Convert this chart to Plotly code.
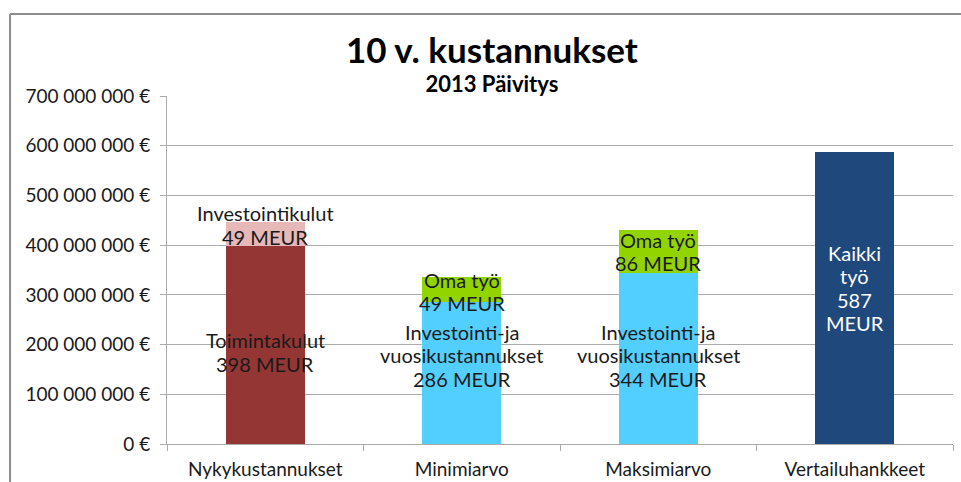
import plotly.graph_objects as go

# ---------------- data ----------------
categories = ["Nykykustannukset", "Minimiarvo", "Maksimiarvo", "Vertailuhankkeet"]
toimintakulut = [398e6, None, None, None]          # €
investointikulut = [49e6, None, None, None]
investointi_vuosi = [None, 286e6, 344e6, None]
oma_tyo = [None, 49e6, 86e6, None]
kaikki_tyo = [None, None, None, 587e6]
ytick_vals = [0, 100e6, 200e6, 300e6, 400e6, 500e6, 600e6, 700e6]
ytick_text = ["0 €", "100 000 000 €", "200 000 000 €", "300 000 000 €",
              "400 000 000 €", "500 000 000 €", "600 000 000 €", "700 000 000 €"]

# label texts (lines) and their (category, y-centre) positions
labels = [
    (["Investointikulut", "49 MEUR"], categories[0], 440.5e6, "#1a1a1a"),
    (["Toimintakulut", "398 MEUR"], categories[0], 185e6, "#1a1a1a"),
    (["Oma työ", "49 MEUR"], categories[1], 307e6, "#1a1a1a"),
    (["Investointi-ja", "vuosikustannukset", "286 MEUR"], categories[1], 179e6, "#1a1a1a"),
    (["Oma työ", "86 MEUR"], categories[2], 387e6, "#1a1a1a"),
    (["Investointi-ja", "vuosikustannukset", "344 MEUR"], categories[2], 179e6, "#1a1a1a"),
    (["Kaikki", "työ", "587", "MEUR"], categories[3], 314e6, "#ffffff"),
]

FONT = "Lato, 'Liberation Sans', Arial, sans-serif"
W = 0.4
LINE_H = 23.5

fig = go.Figure()
fig.add_trace(go.Bar(x=categories, y=toimintakulut, marker_color="#943634", width=W, name="Toimintakulut"))
fig.add_trace(go.Bar(x=categories, y=investointikulut, marker_color="#E6B9B8", width=W, name="Investointikulut"))
fig.add_trace(go.Bar(x=categories, y=investointi_vuosi, marker_color="#52CFFF", width=W, name="Investointi- ja vuosikustannukset"))
fig.add_trace(go.Bar(x=categories, y=oma_tyo, marker_color="#92D400", width=W, name="Oma työ"))
fig.add_trace(go.Bar(x=categories, y=kaikki_tyo, marker_color="#1F497D", width=W, name="Kaikki työ"))
for tr in fig.data:
    tr.marker.line.width = 0

for lines, cat, yv, col in labels:
    n = len(lines)
    for i, line in enumerate(lines):
        fig.add_annotation(x=cat, y=yv, xref="x", yref="y", text=line, showarrow=False,
                           xanchor="center", yanchor="middle",
                           yshift=((n - 1) / 2 - i) * LINE_H,
                           font=dict(family=FONT, size=20, color=col))

# title and subtitle (one text block)
fig.add_annotation(x=0.414, y=1.0976, xref="paper", yref="paper",
                   text="<b><span style='font-size:35px'>10 v. kustannukset</span><br>2013 Päivitys</b>",
                   showarrow=False, xanchor="center", yanchor="middle", align="center",
                   font=dict(family=FONT, size=22, color="#000000"))

# outer frame (top and left edges)
fig.add_shape(type="line", xref="paper", yref="paper", x0=-0.1997, x1=1.02, y0=1.2356, y1=1.2356,
              line=dict(color="#8c8c8c", width=2))
fig.add_shape(type="line", xref="paper", yref="paper", x0=-0.1997, x1=-0.1997, y0=1.2356, y1=-0.2,
              line=dict(color="#8c8c8c", width=2))

fig.update_layout(
    width=961, height=482,
    margin=dict(l=167, r=8, t=96, b=38),
    barmode="stack",
    showlegend=False,
    plot_bgcolor="white", paper_bgcolor="white",
    font=dict(family=FONT, size=18, color="#1a1a1a"),
)
fig.update_yaxes(range=[0, 700e6], tickvals=ytick_vals, ticktext=ytick_text,
                 showgrid=True, gridcolor="#ababab", gridwidth=1,
                 showline=True, linecolor="#ababab", linewidth=1,
                 ticks="outside", ticklen=6, tickcolor="#ababab",
                 tickfont=dict(family=FONT, size=19, color="#1a1a1a"), zeroline=False,
                 ticklabelstandoff=6, automargin=False)
fig.update_xaxes(showline=True, linecolor="#ababab", linewidth=1,
                 ticks="outside", ticklen=6, tickcolor="#ababab", tickson="boundaries",
                 tickfont=dict(family=FONT, size=19, color="#1a1a1a"), ticklabelstandoff=8,
                 automargin=False)

fig.write_html("out.html", config={"displayModeBar": False},
               post_script="document.body.style.margin='0';")
